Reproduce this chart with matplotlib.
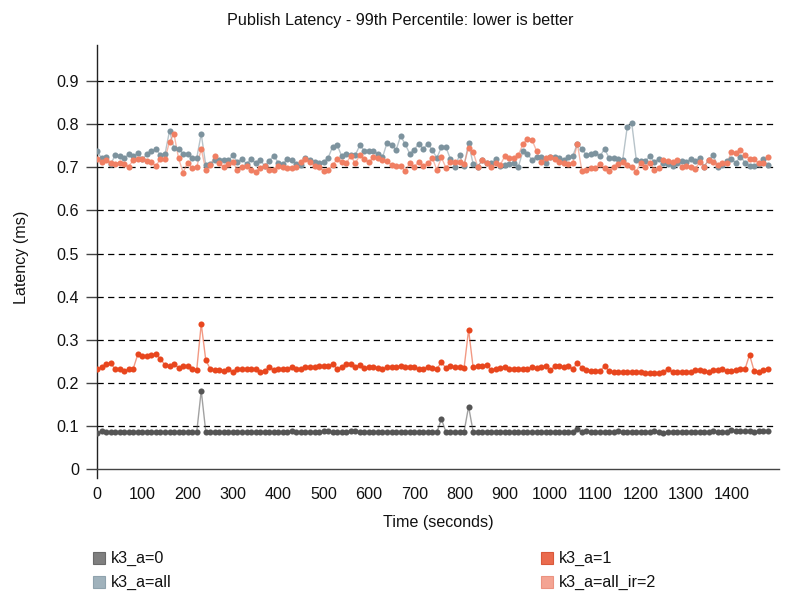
import matplotlib
matplotlib.use("Agg")
import matplotlib.pyplot as plt
from matplotlib.patches import Rectangle

plt.rcParams['font.family'] = ['Liberation Sans', 'DejaVu Sans']
plt.rcParams['font.stretch'] = 'normal'

times = list(range(0, 1490, 10))

k3_a_0 = [
    0.083, 0.089, 0.086, 0.086, 0.087, 0.086, 0.087, 0.087, 0.086, 0.087,
    0.086, 0.086, 0.086, 0.085, 0.086, 0.085, 0.086, 0.087, 0.085, 0.086,
    0.085, 0.085, 0.085, 0.182, 0.087, 0.087, 0.086, 0.086, 0.085, 0.085,
    0.085, 0.086, 0.085, 0.086, 0.086, 0.086, 0.086, 0.086, 0.085, 0.086,
    0.086, 0.087, 0.086, 0.089, 0.086, 0.086, 0.086, 0.085, 0.085, 0.085,
    0.088, 0.088, 0.086, 0.087, 0.087, 0.087, 0.088, 0.089, 0.086, 0.086,
    0.085, 0.086, 0.086, 0.086, 0.086, 0.086, 0.087, 0.086, 0.086, 0.087,
    0.086, 0.086, 0.086, 0.085, 0.086, 0.085, 0.116, 0.086, 0.086, 0.086,
    0.086, 0.086, 0.145, 0.087, 0.085, 0.086, 0.086, 0.087, 0.087, 0.087,
    0.087, 0.086, 0.086, 0.085, 0.085, 0.085, 0.086, 0.086, 0.086, 0.086,
    0.086, 0.086, 0.086, 0.086, 0.085, 0.087, 0.093, 0.087, 0.089, 0.086,
    0.086, 0.085, 0.086, 0.086, 0.086, 0.088, 0.086, 0.086, 0.086, 0.086,
    0.086, 0.086, 0.086, 0.088, 0.085, 0.084, 0.085, 0.085, 0.085, 0.086,
    0.085, 0.085, 0.086, 0.087, 0.085, 0.086, 0.088, 0.086, 0.086, 0.085,
    0.091, 0.088, 0.088, 0.088, 0.088, 0.087, 0.088, 0.089, 0.088,
]

k3_a_all = [
    0.739, 0.721, 0.723, 0.707, 0.728, 0.726, 0.722, 0.730, 0.726, 0.733,
    0.719, 0.730, 0.738, 0.742, 0.729, 0.730, 0.785, 0.744, 0.743, 0.732,
    0.731, 0.721, 0.721, 0.778, 0.705, 0.708, 0.717, 0.718, 0.718, 0.716,
    0.728, 0.712, 0.720, 0.708, 0.720, 0.709, 0.718, 0.703, 0.715, 0.727,
    0.711, 0.708, 0.719, 0.717, 0.708, 0.705, 0.722, 0.718, 0.712, 0.711,
    0.713, 0.722, 0.748, 0.752, 0.726, 0.731, 0.729, 0.729, 0.751, 0.739,
    0.739, 0.738, 0.731, 0.723, 0.757, 0.753, 0.740, 0.773, 0.754, 0.732,
    0.741, 0.755, 0.743, 0.755, 0.740, 0.722, 0.747, 0.747, 0.719, 0.702,
    0.728, 0.703, 0.756, 0.708, 0.702, 0.716, 0.711, 0.709, 0.719, 0.703,
    0.705, 0.707, 0.711, 0.702, 0.738, 0.730, 0.718, 0.725, 0.725, 0.711,
    0.724, 0.725, 0.721, 0.716, 0.723, 0.727, 0.755, 0.743, 0.728, 0.730,
    0.734, 0.726, 0.743, 0.722, 0.721, 0.720, 0.717, 0.793, 0.803, 0.718,
    0.715, 0.715, 0.726, 0.713, 0.720, 0.709, 0.708, 0.703, 0.710, 0.714,
    0.712, 0.719, 0.714, 0.721, 0.702, 0.718, 0.728, 0.702, 0.705, 0.715,
    0.719, 0.711, 0.725, 0.711, 0.704, 0.704, 0.708, 0.719, 0.705,
]

k3_a_1 = [
    0.232, 0.236, 0.244, 0.245, 0.232, 0.232, 0.227, 0.232, 0.233, 0.266,
    0.263, 0.262, 0.265, 0.267, 0.256, 0.241, 0.238, 0.244, 0.235, 0.238,
    0.238, 0.232, 0.229, 0.337, 0.253, 0.232, 0.229, 0.230, 0.228, 0.231,
    0.225, 0.232, 0.232, 0.232, 0.232, 0.232, 0.226, 0.228, 0.236, 0.230,
    0.232, 0.233, 0.232, 0.237, 0.232, 0.231, 0.236, 0.236, 0.236, 0.238,
    0.238, 0.239, 0.244, 0.232, 0.236, 0.243, 0.243, 0.236, 0.242, 0.234,
    0.236, 0.236, 0.234, 0.232, 0.236, 0.237, 0.236, 0.239, 0.236, 0.236,
    0.236, 0.232, 0.232, 0.237, 0.234, 0.232, 0.248, 0.234, 0.238, 0.237,
    0.236, 0.234, 0.323, 0.236, 0.238, 0.239, 0.241, 0.230, 0.232, 0.235,
    0.236, 0.232, 0.233, 0.233, 0.232, 0.232, 0.236, 0.235, 0.237, 0.238,
    0.229, 0.238, 0.238, 0.236, 0.238, 0.232, 0.246, 0.235, 0.229, 0.228,
    0.228, 0.228, 0.238, 0.228, 0.225, 0.224, 0.225, 0.225, 0.225, 0.226,
    0.225, 0.223, 0.222, 0.222, 0.222, 0.226, 0.232, 0.225, 0.225, 0.226,
    0.226, 0.224, 0.230, 0.229, 0.228, 0.225, 0.230, 0.229, 0.231, 0.228,
    0.228, 0.230, 0.232, 0.232, 0.265, 0.228, 0.225, 0.230, 0.232,
]

k3_a_all_ir_2 = [
    0.719, 0.712, 0.717, 0.709, 0.708, 0.711, 0.707, 0.702, 0.717, 0.719,
    0.719, 0.715, 0.713, 0.703, 0.720, 0.719, 0.760, 0.777, 0.721, 0.688,
    0.711, 0.698, 0.700, 0.743, 0.694, 0.705, 0.727, 0.709, 0.700, 0.707,
    0.712, 0.694, 0.702, 0.703, 0.695, 0.690, 0.698, 0.703, 0.694, 0.693,
    0.704, 0.702, 0.699, 0.699, 0.702, 0.713, 0.719, 0.712, 0.703, 0.700,
    0.692, 0.695, 0.705, 0.719, 0.713, 0.709, 0.727, 0.709, 0.729, 0.719,
    0.712, 0.723, 0.721, 0.717, 0.715, 0.705, 0.704, 0.704, 0.692, 0.709,
    0.702, 0.712, 0.703, 0.709, 0.722, 0.694, 0.723, 0.699, 0.712, 0.713,
    0.712, 0.707, 0.746, 0.736, 0.702, 0.716, 0.709, 0.702, 0.709, 0.706,
    0.726, 0.721, 0.721, 0.729, 0.754, 0.767, 0.764, 0.738, 0.712, 0.721,
    0.725, 0.719, 0.713, 0.709, 0.708, 0.711, 0.755, 0.692, 0.694, 0.698,
    0.699, 0.708, 0.698, 0.692, 0.702, 0.707, 0.713, 0.705, 0.702, 0.690,
    0.711, 0.702, 0.711, 0.694, 0.698, 0.717, 0.715, 0.713, 0.717, 0.702,
    0.703, 0.702, 0.696, 0.713, 0.702, 0.717, 0.713, 0.705, 0.709, 0.709,
    0.736, 0.733, 0.740, 0.729, 0.719, 0.719, 0.709, 0.709, 0.723,
]

series_labels = ["k3_a=0", "k3_a=all", "k3_a=1", "k3_a=all_ir=2"]
series_values = [k3_a_0, k3_a_all, k3_a_1, k3_a_all_ir_2]
dot_colors = ["#555555", "#7d939e", "#e8461e", "#f07f63"]
swatch_colors = ["#7f7f7f", "#a0b2bc", "#ea6b4e", "#f4a493"]
swatch_edges = ["#6a6a6a", "#8fa2ad", "#d9593b", "#eb9280"]

y_ticks = [0, 0.1, 0.2, 0.3, 0.4, 0.5, 0.6, 0.7, 0.8, 0.9]
y_tick_labels = ["0", "0.1", "0.2", "0.3", "0.4", "0.5", "0.6", "0.7", "0.8", "0.9"]
x_ticks = list(range(0, 1500, 100))

FS = 11.6

fig = plt.figure(figsize=(8, 6), dpi=100)
ax = fig.add_axes([97 / 800, 1 - 469 / 600, 682 / 800, 424 / 600])

for vals, c in zip(series_values, dot_colors):
    ax.plot(times, vals, color=c, lw=1.0, alpha=0.55, zorder=3)
    ax.plot(times, vals, linestyle="none", marker="o", ms=4.4,
            markerfacecolor=c, markeredgecolor=c, markeredgewidth=0, zorder=4)

ax.set_xlim(0, 1505)
ax.set_ylim(0, 0.984)
ax.set_yticks(y_ticks)
ax.set_yticklabels(y_tick_labels)
ax.set_xticks(x_ticks)
ax.set_xticklabels([str(v) for v in x_ticks])

for v in y_ticks[1:]:
    ax.axhline(v, xmin=0, xmax=0.996, color="black", lw=0.9,
               linestyle=(0, (5, 3.5)), zorder=1)

for s in ["top", "right"]:
    ax.spines[s].set_visible(False)
ax.spines["left"].set_color("#222222")
ax.spines["bottom"].set_color("#444444")
ax.spines["left"].set_bounds(-0.021, 0.984)
ax.spines["left"].set_linewidth(1.0)
ax.spines["bottom"].set_linewidth(1.0)

ax.tick_params(axis="y", length=8, width=1.0, color="#444444", pad=5,
               labelsize=FS, labelcolor="#111111")
ax.tick_params(axis="x", length=0, pad=13, labelsize=FS, labelcolor="#111111")

ax.set_xlabel("Time (seconds)", fontsize=FS, color="#111111")
ax.xaxis.set_label_coords(0.5, -(523 - 469) / 424)
ax.xaxis.label.set_verticalalignment("center")
ax.set_ylabel("Latency (ms)", fontsize=FS, color="#111111")
ax.yaxis.set_label_coords(-(97 - 22) / 682, 0.5)
ax.yaxis.label.set_verticalalignment("center")

fig.text(0.5, 1 - 20 / 600, "Publish Latency - 99th Percentile: lower is better",
         ha="center", va="center", fontsize=FS, color="#111111")

legend_pos = [(93, 558), (93, 582), (541, 558), (541, 582)]
for (px, py), lab, fc, ec in zip(legend_pos, series_labels, swatch_colors, swatch_edges):
    fig.add_artist(Rectangle((px / 800, 1 - (py + 6) / 600), 12 / 800, 12 / 600,
                             transform=fig.transFigure, facecolor=fc,
                             edgecolor=ec, linewidth=0.8))
    fig.text((px + 18) / 800, 1 - py / 600, lab, ha="left", va="center",
             fontsize=FS, color="#111111")

fig.savefig("out.png", dpi=100)
